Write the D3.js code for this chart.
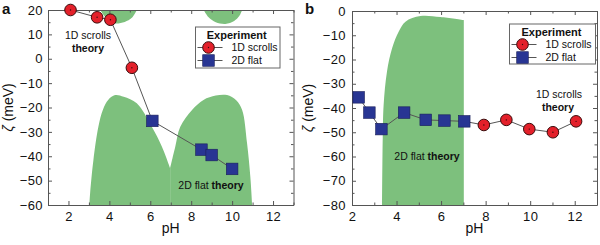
<!DOCTYPE html>
<html>
<head>
<meta charset="utf-8">
<script src="https://cdn.jsdelivr.net/npm/d3@7"></script>
<style>
  body { margin: 0; background: #fff; }
  svg { font-family: "Liberation Sans", Arial, sans-serif; }
  .tick text { font-size: 13px; fill: #111; letter-spacing: 0.4px; }
  .axis path, .axis line { stroke: #555; }
</style>
</head>
<body>
<div class="chart"></div>
<script>
// panel a - experiment
const phA1D = [2.1, 3.4, 4.05, 5.1];
const zetaA1D = [20, 17, 16, -3.7];
const phA2D = [6.1, 8.5, 9.0, 10.0];
const zetaA2D = [-25.5, -37.3, -39.5, -45.2];

// panel a - theory regions
const theoryA2DLeft = [[3.02, -60], [3.06, -55], [3.22, -41.5], [3.46, -28], [3.68, -21], [3.95, -16.8], [4.28, -14.9], [4.7, -15.6], [5.34, -18.3], [6.08, -28], [6.57, -36.1], [6.97, -44.9]];
const theoryA2DRight = [[6.97, -44.9], [7.22, -36.1], [7.46, -28], [8.04, -21], [8.6, -16.9], [9.2, -15.1], [9.75, -14.9], [10.2, -17], [10.49, -21], [10.73, -34.7], [10.89, -48.4], [10.98, -60]];
const theoryA1DLeft = [[3.55, 20], [3.78, 17.3], [4.05, 15.2], [4.3, 14.5], [4.75, 15.1], [5.1, 16.8], [5.34, 20]];
const theoryA1DRight = [[8.61, 20], [8.85, 17], [9.2, 15], [9.67, 14.3], [10.1, 15.5], [10.35, 17.5], [10.49, 20]];

// panel b - experiment
const phB2D = [2.3, 2.78, 3.32, 4.34, 5.31, 6.15, 7.04];
const zetaB2D = [-35.6, -41.9, -48.7, -41.9, -44.9, -45.2, -45.5];
const phB1D = [7.92, 8.93, 9.96, 11.02, 12.06];
const zetaB1D = [-47, -44.9, -48.7, -50, -45.5];

// panel b - theory region
const theoryB2D = [[3.35, -80], [3.38, -52.5], [3.42, -38.8], [3.57, -25], [3.8, -15.4], [4.1, -8.5], [4.4, -4.4], [5.07, -2.1], [5.97, -2.5], [7.02, -3.8]];

// ticks
const xTicks = [2, 4, 6, 8, 10, 12];
const xMinor = [1, 3, 5, 7, 9, 11, 13];
const yTicksA = [-60, -50, -40, -30, -20, -10, 0, 10, 20];
const yTicksB = [-80, -70, -60, -50, -40, -30, -20, -10, 0];

const green = "#7dc07d";
const red = "#e3202a";
const navy = "#283593";

const svg = d3.select(".chart").append("svg").attr("width", 600).attr("height", 245);

const panels = [
  {
    id: "a", x: d3.scaleLinear().domain([1, 13]).range([48, 293.5]),
    y: d3.scaleLinear().domain([-60, 20]).range([205, 10]),
    yTicks: yTicksA, yMinorStep: 5,
    theory: [theoryA2DLeft, theoryA2DRight], theoryBase: -60,
    theoryTop: [theoryA1DLeft, theoryA1DRight],
    series: [{ ph: phA1D, z: zetaA1D, shape: "circle" }, { ph: phA2D, z: zetaA2D, shape: "square" }],
    legend: { x: 195.5, y: 27, w: 84.5, h: 41 },
    labelX: 2, labelY: 14, ylabX: 13, ypad: 5,
    notes: [
      { x: 88, y: 38.5, parts: [["1D scrolls", 400]] },
      { x: 88, y: 51.5, parts: [["theory", 700]] },
      { x: 211, y: 188.5, parts: [["2D flat ", 400], ["theory", 700]] }
    ]
  },
  {
    id: "b", x: d3.scaleLinear().domain([2, 13]).range([352, 597]),
    y: d3.scaleLinear().domain([-80, 0]).range([205, 11]),
    yTicks: yTicksB, yMinorStep: 5,
    theory: [theoryB2D], theoryBase: -80, theoryTop: [],
    series: [{ ph: phB2D.concat(phB1D), z: zetaB2D.concat(zetaB1D), line: true },
             { ph: phB2D, z: zetaB2D, shape: "square" }, { ph: phB1D, z: zetaB1D, shape: "circle" }],
    legend: { x: 509.5, y: 24, w: 86, h: 40 },
    labelX: 305, labelY: 14, ylabX: 313, ypad: 6,
    notes: [
      { x: 559, y: 97.5, parts: [["1D scrolls", 400]] },
      { x: 558, y: 110.5, parts: [["theory", 700]] },
      { x: 427, y: 160, parts: [["2D flat ", 400], ["theory", 700]] }
    ]
  }
];

panels.forEach(p => drawPanel(p));

function drawPanel(p) {
  const { x, y } = p;
  const [x0, x1] = x.range();
  const [yb, yt] = y.range();
  const g = svg.append("g");

  g.append("clipPath").attr("id", "clip-" + p.id)
    .append("rect").attr("x", x0).attr("y", yt).attr("width", x1 - x0).attr("height", yb - yt);

  const plot = g.append("g").attr("clip-path", `url(#clip-${p.id})`);

  // theory regions
  const curve = d3.curveCatmullRom.alpha(0.5);
  const areaBottom = d3.area().x(d => x(d[0])).y0(y(p.theoryBase)).y1(d => y(d[1])).curve(curve);
  const areaTop = d3.area().x(d => x(d[0])).y0(y(y.domain()[1])).y1(d => y(d[1])).curve(curve);
  p.theory.forEach(t => plot.append("path").attr("d", areaBottom(t)).attr("fill", green));
  p.theoryTop.forEach(t => plot.append("path").attr("d", areaTop(t)).attr("fill", green));

  // notes
  p.notes.forEach(n => {
    const t = g.append("text").attr("x", n.x).attr("y", n.y).attr("text-anchor", "middle")
      .attr("font-size", 10.5).attr("fill", "#111");
    n.parts.forEach(([s, w]) => t.append("tspan").attr("font-weight", w).text(s));
  });

  // axes
  const yMinor = d3.range(y.domain()[0], y.domain()[1] + 0.1, p.yMinorStep).filter(v => v % 10 !== 0);
  const xMinorP = xMinor.filter(v => v >= x.domain()[0] && v <= x.domain()[1]);

  g.append("g").attr("class", "axis").attr("transform", `translate(0,${yb})`)
    .call(d3.axisBottom(x).tickValues(xTicks).tickSize(-4).tickSizeOuter(0).tickPadding(7));
  g.append("g").attr("class", "axis").attr("transform", `translate(0,${yb})`)
    .call(d3.axisBottom(x).tickValues(xMinorP).tickSize(-2.5).tickFormat(""))
    .call(a => a.select(".domain").remove());
  g.append("g").attr("class", "axis").attr("transform", `translate(0,${yt})`)
    .call(d3.axisTop(x).tickValues(xTicks).tickSize(-4).tickSizeOuter(0).tickFormat(""));
  g.append("g").attr("class", "axis").attr("transform", `translate(0,${yt})`)
    .call(d3.axisTop(x).tickValues(xMinorP).tickSize(-2.5).tickFormat(""))
    .call(a => a.select(".domain").remove());

  g.append("g").attr("class", "axis").attr("transform", `translate(${x0},0)`)
    .call(d3.axisLeft(y).tickValues(p.yTicks).tickSize(-4).tickSizeOuter(0).tickPadding(p.ypad));
  g.append("g").attr("class", "axis").attr("transform", `translate(${x0},0)`)
    .call(d3.axisLeft(y).tickValues(yMinor).tickSize(-2.5).tickFormat(""))
    .call(a => a.select(".domain").remove());
  g.append("g").attr("class", "axis").attr("transform", `translate(${x1},0)`)
    .call(d3.axisRight(y).tickValues(p.yTicks).tickSize(-4).tickSizeOuter(0).tickFormat(""));
  g.append("g").attr("class", "axis").attr("transform", `translate(${x1},0)`)
    .call(d3.axisRight(y).tickValues(yMinor).tickSize(-2.5).tickFormat(""))
    .call(a => a.select(".domain").remove());

  // connecting line + markers
  const line = d3.line().x(d => x(d[0])).y(d => y(d[1]));
  if (p.id === "a") {
    const pts = d3.zip(phA1D.concat(phA2D), zetaA1D.concat(zetaA2D));
    g.append("path").attr("d", line(pts)).attr("fill", "none").attr("stroke", "#555").attr("stroke-width", 1);
  }
  p.series.forEach(s => {
    const pts = d3.zip(s.ph, s.z);
    if (s.line) {
      g.append("path").attr("d", line(pts)).attr("fill", "none").attr("stroke", "#555").attr("stroke-width", 1);
      return;
    }
    pts.forEach(d => drawMarker(g, s.shape, x(d[0]), y(d[1])));
  });

  // legend
  const L = p.legend;
  g.append("rect").attr("x", L.x).attr("y", L.y).attr("width", L.w).attr("height", L.h)
    .attr("fill", "#fff").attr("stroke", "#666").attr("stroke-width", 1);
  g.append("text").attr("x", L.x + L.w / 2 - 1).attr("y", L.y + 11.5).attr("text-anchor", "middle")
    .attr("font-size", 11).attr("font-weight", 700).attr("fill", "#111").text("Experiment");
  [["circle", "1D scrolls", 20.5], ["square", "2D flat", 33.5]].forEach(([shape, label, dy]) => {
    const ly = L.y + dy;
    g.append("line").attr("x1", L.x + 2).attr("x2", L.x + 27).attr("y1", ly).attr("y2", ly)
      .attr("stroke", "#555").attr("stroke-width", 1);
    drawMarker(g, shape, L.x + 13, ly);
    g.append("text").attr("x", L.x + 36).attr("y", ly + 3.8).attr("font-size", 10.5)
      .attr("fill", "#111").text(label);
  });

  // titles
  g.append("text").attr("x", p.labelX).attr("y", p.labelY).attr("font-size", 15)
    .attr("font-weight", 700).attr("fill", "#111").text(p.id);
  g.append("text").attr("x", (x0 + x1) / 2).attr("y", 233).attr("text-anchor", "middle")
    .attr("font-size", 14).attr("fill", "#111").text("pH");
  const yl = g.append("text").attr("transform", `translate(${p.ylabX},${(yb + yt) / 2}) rotate(-90)`)
    .attr("text-anchor", "middle").attr("font-size", 14).attr("fill", "#111");
  yl.append("tspan").attr("font-style", "italic").text("ζ");
  yl.append("tspan").text(" (meV)");
}

function drawMarker(g, shape, cx, cy) {
  if (shape === "circle") {
    g.append("circle").attr("cx", cx).attr("cy", cy).attr("r", 5.8)
      .attr("fill", red).attr("stroke", "#3a0b0b").attr("stroke-width", 1);
    g.append("circle").attr("cx", cx).attr("cy", cy).attr("r", 0.7).attr("fill", "#3a0b0b");
  } else {
    g.append("rect").attr("x", cx - 5.8).attr("y", cy - 5.8).attr("width", 11.6).attr("height", 11.6)
      .attr("fill", navy).attr("stroke", "#1a1f5a").attr("stroke-width", 0.6);
  }
}
</script>
</body>
</html>
